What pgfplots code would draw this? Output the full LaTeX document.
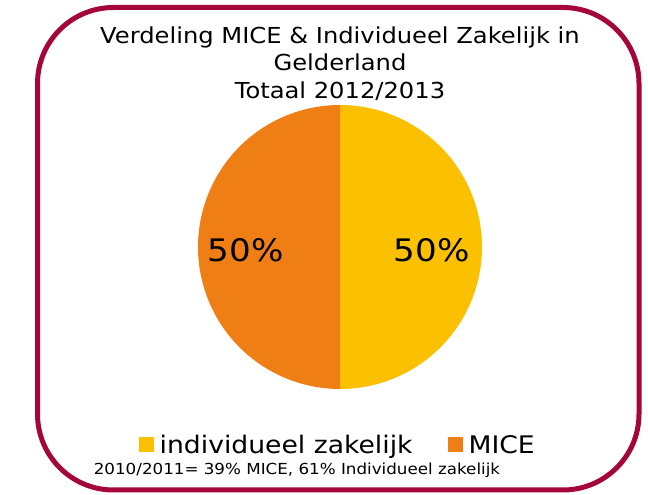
\documentclass[border=0pt]{standalone}
\usepackage{pgfplots}
\pgfplotsset{compat=1.18}
\usepackage{pgfplotstable}
\usepackage{fontspec}
\setmainfont{DejaVu Sans}[FakeStretch=1.1]
\definecolor{frame}{HTML}{A5063A}
\definecolor{indiv}{HTML}{FBC100}
\definecolor{mice}{HTML}{EF7E14}

% share per category (%)
\pgfplotstableread{
cat   value
indiv 50
mice  50
}\piedata

\begin{document}
\begin{tikzpicture}[x=1pt,y=1pt]
\useasboundingbox (0,0) rectangle (648,495);
\draw[frame, line width=5pt, rounded corners=76pt] (37.5,5) rectangle (639,487.5);

\node[align=center, font=\fontsize{22}{27.5}\selectfont] at (340,431.5)
  {Verdeling MICE \& Individueel Zakelijk in\\Gelderland\\Totaal 2012/2013};

\pgfplotstablegetelem{0}{value}\of\piedata \let\valA\pgfplotsretval
\pgfplotstablegetelem{1}{value}\of\piedata \let\valB\pgfplotsretval
\pgfmathsetmacro{\angA}{90-3.6*\valA}
\pgfmathsetmacro{\angB}{\angA-3.6*\valB}

\begin{axis}[
    at={(340pt,248pt)}, anchor=center,
    scale only axis, width=284pt, height=284pt,
    xmin=-1, xmax=1, ymin=-1, ymax=1,
    hide axis, clip=false,
    legend columns=2,
    legend style={draw=none, fill=none, at={(axis description cs:0.492,-0.197)}, anchor=center,
        font=\fontsize{24.2}{30}\selectfont, /tikz/every even column/.append style={column sep=33pt}},
    legend image code/.code={\fill[#1] (0pt,-7.5pt) rectangle (15pt,7.5pt); \path (19pt,0pt);},
]
\addplot[fill=indiv, draw=none, domain=90:\angA, samples=121] ({cos(x)},{sin(x)}) -- (0,0) -- cycle;
\addlegendentry{individueel zakelijk}
\addplot[fill=mice, draw=none, domain=\angA:\angB, samples=121] ({cos(x)},{sin(x)}) -- (0,0) -- cycle;
\addlegendentry{MICE}
\node[font=\fontsize{31}{36}\selectfont] at (axis cs:0.645,-0.02) {\valA\%};
\node[font=\fontsize{31}{36}\selectfont] at (axis cs:-0.665,-0.02) {\valB\%};
\end{axis}

\node[font=\fontsize{15.2}{18}\selectfont] at (297,25) {2010/2011= 39\% MICE, 61\% Individueel zakelijk};
\end{tikzpicture}
\end{document}
